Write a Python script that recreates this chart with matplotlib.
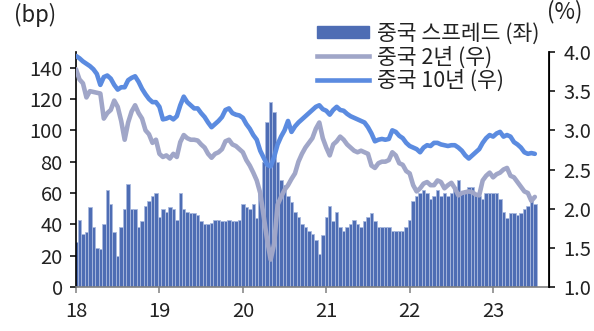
import numpy as np
import matplotlib.pyplot as plt
from matplotlib.patches import Patch
from matplotlib.lines import Line2D

plt.rcParams['font.family'] = ['Noto Sans CJK KR', 'DejaVu Sans']

# 반월 간격 (2018.01 ~ 2023.07)
n_pts = 133
t = 18 + np.arange(n_pts) / 24

# 중국 10년 국채금리 (%)
cn10y = [3.95, 3.92, 3.88, 3.85, 3.82, 3.78, 3.72, 3.58, 3.68, 3.70,
         3.66, 3.58, 3.52, 3.55, 3.55, 3.64, 3.67, 3.69, 3.62, 3.53,
         3.46, 3.40, 3.36, 3.36, 3.30, 3.14, 3.15, 3.17, 3.14, 3.18,
         3.32, 3.43, 3.36, 3.32, 3.28, 3.28, 3.22, 3.17, 3.10, 3.04,
         3.08, 3.12, 3.17, 3.26, 3.28, 3.22, 3.20, 3.19, 3.16, 3.08,
         3.02, 2.94, 2.88, 2.74, 2.65, 2.56, 2.54, 2.66, 2.82, 2.92,
         3.00, 3.12, 2.98, 3.05, 3.10, 3.14, 3.18, 3.22, 3.26, 3.30,
         3.32, 3.27, 3.25, 3.20, 3.26, 3.30, 3.26, 3.25, 3.21, 3.18,
         3.16, 3.14, 3.12, 3.10, 3.04, 2.96, 2.86, 2.88, 2.89, 2.88,
         2.89, 3.00, 2.98, 2.93, 2.90, 2.84, 2.80, 2.78, 2.76, 2.72,
         2.78, 2.81, 2.80, 2.84, 2.84, 2.82, 2.81, 2.80, 2.81, 2.81,
         2.78, 2.74, 2.68, 2.64, 2.68, 2.72, 2.76, 2.84, 2.90, 2.94,
         2.92, 2.96, 2.98, 2.92, 2.94, 2.92, 2.85, 2.82, 2.78, 2.72,
         2.70, 2.71, 2.70]

# 중국 2년 국채금리 (%)
cn2y = [3.78, 3.65, 3.60, 3.42, 3.50, 3.49, 3.48, 3.47, 3.15, 3.22,
        3.26, 3.38, 3.30, 3.12, 2.88, 3.10, 3.24, 3.32, 3.22, 3.15,
        3.00, 2.95, 2.84, 2.88, 2.70, 2.66, 2.68, 2.64, 2.70, 2.66,
        2.85, 2.94, 2.90, 2.88, 2.88, 2.87, 2.82, 2.78, 2.70, 2.65,
        2.70, 2.72, 2.76, 2.86, 2.88, 2.82, 2.80, 2.76, 2.72, 2.62,
        2.55, 2.46, 2.36, 2.20, 1.90, 1.60, 1.35, 1.55, 2.05, 2.15,
        2.24, 2.30, 2.38, 2.45, 2.60, 2.70, 2.78, 2.84, 2.90, 3.02,
        3.10, 2.90, 2.78, 2.68, 2.82, 2.86, 2.92, 2.88, 2.82, 2.78,
        2.74, 2.72, 2.74, 2.72, 2.70, 2.55, 2.52, 2.58, 2.60, 2.60,
        2.62, 2.72, 2.68, 2.58, 2.56, 2.48, 2.45, 2.30, 2.22, 2.26,
        2.32, 2.34, 2.30, 2.30, 2.36, 2.34, 2.26, 2.30, 2.33, 2.26,
        2.17, 2.20, 2.21, 2.22, 2.21, 2.18, 2.17, 2.36, 2.42, 2.46,
        2.40, 2.44, 2.46, 2.50, 2.52, 2.42, 2.40, 2.34, 2.28, 2.22,
        2.20, 2.10, 2.15]

# 10년-2년 스프레드 (bp)
spread = [29, 43, 34, 35, 51, 38, 25, 24, 40, 62,
          53, 35, 20, 38, 50, 66, 50, 50, 38, 42,
          52, 55, 58, 60, 45, 50, 48, 51, 50, 43,
          60, 50, 48, 47, 47, 46, 42, 40, 40, 41,
          43, 43, 42, 42, 43, 42, 42, 43, 53, 51,
          50, 53, 44, 60, 80, 105, 118, 112, 80, 68,
          65, 58, 54, 48, 45, 40, 38, 36, 34, 30,
          21, 33, 45, 52, 42, 48, 38, 36, 38, 40,
          43, 40, 38, 42, 45, 47, 42, 38, 38, 38,
          38, 36, 36, 36, 36, 38, 43, 55, 58, 60,
          62, 60, 56, 58, 62, 58, 60, 58, 60, 64,
          68, 60, 62, 64, 64, 60, 58, 56, 60, 60,
          60, 60, 56, 48, 44, 47, 47, 46, 47, 50,
          52, 56, 53]

xticks = [18, 19, 20, 21, 22, 23]
yticks_l = [0, 20, 40, 60, 80, 100, 120, 140]
yticks_r = [1.0, 1.5, 2.0, 2.5, 3.0, 3.5, 4.0]

c_bar = '#4e6db4'
c_2y = '#a0a6c8'
c_10y = '#5b8be0'

fig = plt.figure(figsize=(5.94, 3.31), dpi=100)
ax = fig.add_axes([76/594, 44/331, 473/594, 235/331])
ax2 = ax.twinx()

ax.bar(t, spread, width=1/24, color=c_bar, edgecolor='#a9b9de', linewidth=0.6, align='center')
ax2.plot(t, cn2y, color=c_2y, lw=3.3, solid_capstyle='round')
ax2.plot(t, cn10y, color=c_10y, lw=3.3, solid_capstyle='round')

ax.set_xlim(18, 23.67)
ax.set_ylim(0, 150)
ax2.set_ylim(1.0, 4.0)
ax.set_xticks(xticks)
ax.set_xticklabels([str(x) for x in xticks])
ax.set_yticks(yticks_l)
ax2.set_yticks(yticks_r)
ax2.set_yticklabels([f'{v:.1f}' for v in yticks_r])

for a in (ax, ax2):
    a.spines['top'].set_visible(False)
    a.tick_params(labelsize=14.5, length=4.5, width=1.1, labelcolor='#222222')
ax.tick_params(axis='y', pad=5)
ax.tick_params(axis='x', pad=5.5, colors='#808080', labelcolor='#222222')
ax2.tick_params(axis='y', pad=6)
ax.spines['bottom'].set_color('#808080')
ax.spines['bottom'].set_linewidth(1.2)
ax.spines['left'].set_linewidth(1.2)
ax2.spines['right'].set_linewidth(1.3)
ax2.spines['bottom'].set_visible(False)
ax2.spines['left'].set_visible(False)

fig.text(14/594, 1 - 15/331, '(bp)', fontsize=16, va='center', ha='left', color='#222222')
fig.text(547/594, 1 - 12/331, '(%)', fontsize=16, va='center', ha='left', color='#222222')

handles = [Patch(facecolor=c_bar, edgecolor=c_bar),
           Line2D([], [], color=c_2y, lw=3.3),
           Line2D([], [], color=c_10y, lw=3.3)]
labels = ['중국 스프레드 (좌)', '중국 2년 (우)', '중국 10년 (우)']
leg = ax2.legend(handles, labels, loc='upper left', bbox_to_anchor=(317/594, 1 - 23/331),
                 bbox_transform=fig.transFigure, frameon=False, fontsize=15.5,
                 handlelength=2.4, handleheight=0.5, handletextpad=0.4,
                 labelspacing=0.05, borderpad=0, borderaxespad=0)
for txt in leg.get_texts():
    txt.set_color('#222222')

fig.savefig('out.png', dpi=100)
